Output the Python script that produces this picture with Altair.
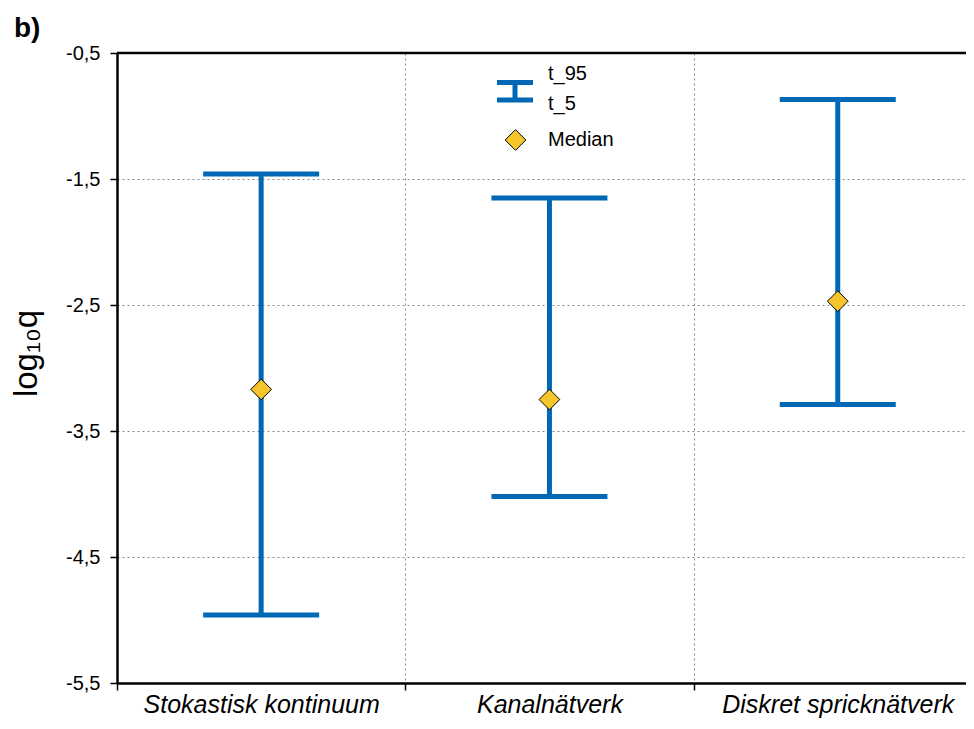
import json
import altair as alt
import pandas as pd

categories = ["Stokastisk kontinuum", "Kanalnätverk", "Diskret spricknätverk"]
t_95 = [-1.46, -1.65, -0.87]
t_5 = [-4.96, -4.02, -3.29]
median = [-3.17, -3.25, -2.47]
y_ticks = [-0.5, -1.5, -2.5, -3.5, -4.5, -5.5]

# category index (band centre) positions on a quantitative x scale
pos = [i + 0.5 for i in range(len(categories))]
df = pd.DataFrame({"cat": categories, "pos": pos, "t_95": t_95, "t_5": t_5, "median": median})

BLUE = "#0068b4"
GOLD = "#f5c52b"
FONT = "Liberation Sans"

W, H = 849, 630
BAND = 288.3
xs = alt.Scale(domain=[0, W / BAND], nice=False, zero=False)
ys = alt.Scale(domain=[-5.5, -0.5], nice=False, zero=False)

label_expr = json.dumps(categories, ensure_ascii=False) + "[datum.value]"
x_enc = alt.X("pos:Q", scale=xs, title=None,
              axis=alt.Axis(values=[0, 1, 2], labelExpr=label_expr, labelOffset=BAND / 2,
                            grid=True, gridDash=[2, 3], gridColor="#888888",
                            gridWidth=1, domainColor="black", domainWidth=2.5, tickColor="black",
                            tickSize=7, tickWidth=1.5, labelFont=FONT, labelFontSize=25,
                            labelFontStyle="italic", labelColor="black", labelPadding=2,
                            labelAngle=0, labelLimit=0, labelAlign="center", labelFlush=False,
                            labelOverlap=False))
y_axis = alt.Axis(values=y_ticks, labelExpr="replace(toString(datum.value), '.', ',')",
                  grid=True, gridDash=[2, 3], gridColor="#888888", gridWidth=1,
                  domainColor="black", domainWidth=2.5, tickColor="black", tickSize=7,
                  tickWidth=1.5, labelFont=FONT, labelFontSize=20, labelColor="black",
                  labelPadding=10, title="log₁₀q", titleFont=FONT, titleFontSize=33,
                  titleFontWeight="normal", titleColor="black", titlePadding=22,
                  titleY=300)

base = alt.Chart(df)
xq = alt.X("pos:Q", scale=xs)

bars = base.mark_rule(color=BLUE, strokeWidth=5, opacity=1).encode(
    x=x_enc,
    y=alt.Y("t_5:Q", scale=ys, axis=y_axis),
    y2="t_95:Q",
)
cap_hi = base.mark_tick(color=BLUE, size=116, thickness=5, orient="horizontal", opacity=1).encode(
    x=xq, y=alt.Y("t_95:Q", scale=ys))
cap_lo = base.mark_tick(color=BLUE, size=116, thickness=5, orient="horizontal", opacity=1).encode(
    x=xq, y=alt.Y("t_5:Q", scale=ys))
med = base.mark_point(shape="diamond", size=430, filled=True, fill=GOLD, stroke="black",
                      strokeWidth=1, opacity=1).encode(x=xq, y=alt.Y("median:Q", scale=ys))

one = alt.Chart(pd.DataFrame({"a": [0]}))
top_border = one.mark_rule(color="black", strokeWidth=2.5).encode(
    x=alt.value(0), x2=alt.value(W + 10), y=alt.value(0))

# legend (annotation)
lg1 = one.mark_rule(color=BLUE, strokeWidth=5).encode(x=alt.value(380), x2=alt.value(416), y=alt.value(29.5))
lg2 = one.mark_rule(color=BLUE, strokeWidth=5).encode(x=alt.value(380), x2=alt.value(416), y=alt.value(47))
lg3 = one.mark_rule(color=BLUE, strokeWidth=5).encode(x=alt.value(398), y=alt.value(29.5), y2=alt.value(47))
lg4 = one.mark_point(shape="diamond", size=430, filled=True, fill=GOLD, stroke="black",
                     strokeWidth=1, opacity=1).encode(x=alt.value(398.5), y=alt.value(87))
txt_style = dict(align="left", baseline="middle", font=FONT, fontSize=20, color="black")
lt1 = one.mark_text(text="t_95", **txt_style).encode(x=alt.value(431), y=alt.value(21))
lt2 = one.mark_text(text="t_5", **txt_style).encode(x=alt.value(431), y=alt.value(51))
lt3 = one.mark_text(text="Median", **txt_style).encode(x=alt.value(431), y=alt.value(87))
panel = one.mark_text(text="b)", align="left", baseline="top", font=FONT, fontSize=28,
                      fontWeight="bold", color="black").encode(x=alt.value(-103), y=alt.value(-38))

chart = alt.layer(bars, cap_hi, cap_lo, med, top_border, lg1, lg2, lg3, lg4, lt1, lt2, lt3, panel).properties(
    width=W, height=H,
    autosize=alt.AutoSizeParams(type="none"),
    padding={"left": 109, "top": 45, "right": 0, "bottom": 36},
).configure_view(stroke=None).configure(background="white")

chart.save("out.html", embed_options={"renderer": "svg", "actions": False})
